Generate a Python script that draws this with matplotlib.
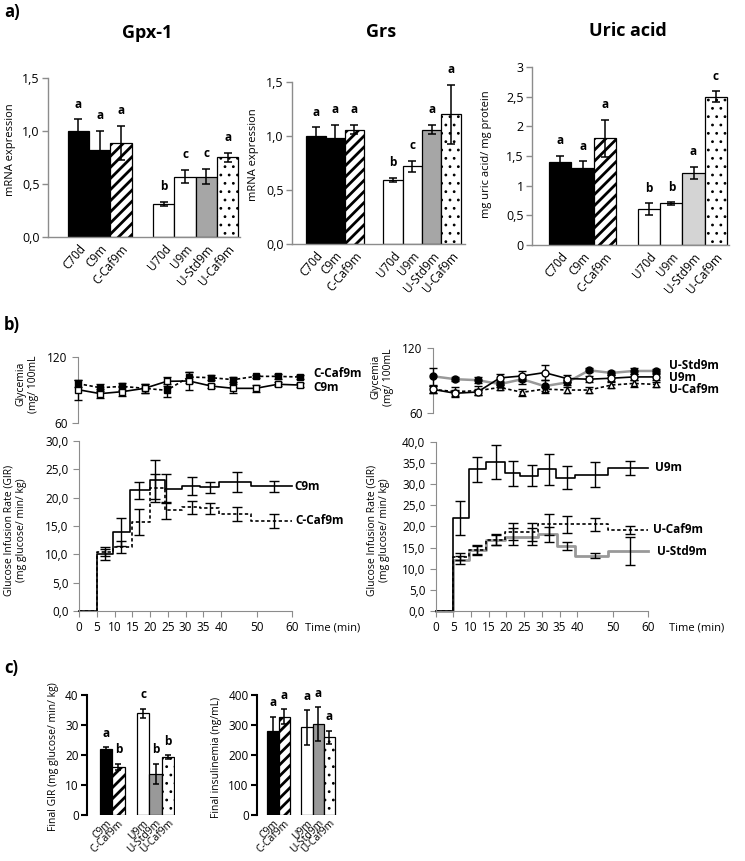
import matplotlib
matplotlib.use('Agg')
import matplotlib.pyplot as plt
import numpy as np

plt.rcParams['font.family'] = ['Open Sans', 'DejaVu Sans']

W, H = 745, 861
fig = plt.figure(figsize=(W / 100, H / 100), dpi=100)

# ---------------- DATA ----------------
cats_a = ['C70d', 'C9m', 'C-Caf9m', 'U70d', 'U9m', 'U-Std9m', 'U-Caf9m']
gpx_vals = [1.00, 0.82, 0.89, 0.31, 0.57, 0.57, 0.75]
gpx_err = [0.11, 0.18, 0.16, 0.02, 0.06, 0.07, 0.04]
gpx_letters = ['a', 'a', 'a', 'b', 'c', 'c', 'a']
grs_vals = [1.00, 0.98, 1.06, 0.59, 0.72, 1.06, 1.20]
grs_err = [0.08, 0.12, 0.04, 0.02, 0.05, 0.04, 0.27]
grs_letters = ['a', 'a', 'a', 'b', 'c', 'a', 'a']
uric_vals = [1.40, 1.29, 1.80, 0.60, 0.70, 1.21, 2.50]
uric_err = [0.10, 0.12, 0.31, 0.10, 0.02, 0.10, 0.09]
uric_letters = ['a', 'a', 'a', 'b', 'b', 'a', 'c']

# glycemia (11 sampling points)
gly_c9 = [90.3, 86.7, 88.5, 91.5, 97.9, 98.2, 93.6, 91.5, 91.5, 95.2, 94.5]
gly_c9_err = [9, 4, 4, 4, 4, 8, 2, 4, 3, 2, 2]
gly_ccaf = [95.8, 92.1, 93.3, 91.5, 89.7, 101.8, 101.2, 99.4, 102.4, 102.4, 101.8]
gly_ccaf_err = [3, 3, 3, 4, 6, 5, 2, 2, 1.5, 2, 2]
gly_ustd = [93.9, 91.2, 90.3, 86.7, 91.2, 84.8, 88.2, 99.4, 97.0, 98.8, 98.8]
gly_ustd_err = [8, 2, 3, 3, 4, 6, 2, 2, 2, 3, 2]
gly_u9 = [81.8, 78.2, 79.4, 92.4, 94.2, 97.3, 91.8, 91.2, 92.1, 93.3, 93.3]
gly_u9_err = [3, 3, 3, 4, 5, 7, 3, 3, 3, 3, 3]
gly_ucaf = [81.8, 79.7, 80.6, 83.6, 79.1, 82.1, 81.2, 81.2, 85.8, 87.3, 86.4]
gly_ucaf_err = [3, 4, 4, 2, 3, 2, 3, 3, 3, 3, 2]

# GIR step curves (breakpoint times, values)
gir_c9_t = [0, 5, 9.5, 14.5, 20, 24.3, 29, 34, 39.3, 48.5, 60]
gir_c9_v = [0, 10.0, 14.0, 21.3, 23.2, 21.6, 22.0, 21.8, 22.8, 22.0]
gir_ccaf_t = [0, 5, 9.5, 15, 20, 24.3, 29, 34, 39.3, 48.5, 60]
gir_ccaf_v = [0, 10.5, 11.3, 15.7, 21.7, 17.8, 18.3, 18.1, 17.1, 15.9]
eb_t_left = [7.3, 11.8, 17.0, 21.5, 24.5, 31.8, 37.0, 44.5, 54.9]
gir_c9_ebv = [10.0, 14.0, 21.3, 23.2, 21.6, 22.0, 21.8, 22.8, 22.0]
gir_c9_ebe = [1.0, 2.5, 1.5, 3.4, 2.5, 1.6, 0.9, 1.8, 1.0]
gir_ccaf_ebv = [10.5, 11.3, 15.7, 21.7, 17.8, 18.3, 18.1, 17.1, 15.9]
gir_ccaf_ebe = [0.8, 1.0, 2.3, 2.5, 1.5, 1.2, 1.0, 1.2, 1.2]

gir_u9_t = [0, 5, 9.5, 14.2, 19.5, 23.9, 29, 34, 39.3, 48.8, 60]
gir_u9_v = [0, 22.0, 33.5, 35.3, 32.5, 32.0, 33.5, 31.5, 32.2, 33.8]
gir_ucaf_t = [0, 5, 9.5, 14.2, 19.5, 29, 48.8, 60]
gir_ucaf_v = [0, 12.8, 14.3, 16.8, 18.7, 20.5, 19.2]
gir_ustd_t = [0, 5, 9.5, 14.2, 19.5, 29, 34.3, 39.5, 48.8, 60]
gir_ustd_v = [0, 12.0, 14.5, 16.7, 17.6, 18.1, 15.3, 13.1, 14.1]
eb_t_right = [7.0, 11.8, 17.0, 21.9, 27.1, 32.0, 37.0, 45.0, 54.9]
gir_u9_ebv = [22.0, 33.5, 35.3, 32.5, 32.0, 33.5, 31.5, 32.2, 33.8]
gir_u9_ebe = [4.0, 3.0, 4.0, 3.0, 2.5, 3.7, 2.7, 3.0, 1.6]
gir_ucaf_ebv = [12.8, 14.3, 16.8, 18.7, 18.7, 20.5, 20.5, 20.5, 19.2]
gir_ucaf_ebe = [0.8, 1.0, 1.3, 2.0, 2.2, 2.5, 2.0, 1.5, 1.0]
gir_ustd_ebv = [12.0, 14.5, 16.7, 17.6, 17.6, 18.1, 15.3, 13.1, 14.1]
gir_ustd_ebe = [1.0, 1.0, 1.2, 2.0, 2.0, 1.8, 1.0, 0.5, 3.3]

# panel c
cats_c = ['C9m', 'C-Caf9m', 'U9m', 'U-Std9m', 'U-Caf9m']
gir_final = [22.0, 16.1, 33.9, 13.8, 19.3]
gir_final_err = [0.7, 1.0, 1.5, 3.3, 0.6]
gir_final_letters = ['a', 'b', 'c', 'b', 'b']
ins_final = [281, 328, 292, 303, 259]
ins_final_err = [47, 25, 57, 57, 22]
ins_letters = ['a', 'a', 'a', 'a', 'a']

# ---------------- HELPERS ----------------
GRAY = '#8c8c8c'


def add_ax(l, r, t, b):
    return fig.add_axes([l / W, 1 - b / H, (r - l) / W, (b - t) / H])


def ftext(x, y, s, **kw):
    fig.text(x / W, 1 - y / H, s, **kw)


def set_hatch_lw(p, lw):
    if hasattr(p, 'set_hatch_linewidth'):
        p.set_hatch_linewidth(lw)


def bar_panel(ax, pos, vals, errs, letters, colors, hatches, ylim, yticks, ytl,
              xlim, labels, spine_color=GRAY, spine_lw=1.0, tick_fs=9,
              lab_fs=8.5, rot=50, letter_off=11, cap=3, xpad=4):
    for i, (p, v, e) in enumerate(zip(pos, vals, errs)):
        b = ax.bar(p, v, width=1.0, color=colors[i], edgecolor='black',
                   linewidth=0.9, hatch=hatches[i], zorder=2)[0]
        if hatches[i] == '///':
            set_hatch_lw(b, 2.0)
        elif hatches[i]:
            set_hatch_lw(b, 0.8)
        ax.errorbar(p, v, yerr=e, fmt='none', ecolor='black', elinewidth=1.1,
                    capsize=cap, capthick=1.1, zorder=3)
        ax.annotate(letters[i], (p, v + e), xytext=(0, letter_off),
                    textcoords='offset points', ha='center', va='center',
                    fontsize=8.5, fontweight='bold')
    ax.set_xlim(*xlim)
    ax.set_ylim(*ylim)
    ax.set_yticks(yticks)
    ax.set_yticklabels(ytl, fontsize=tick_fs)
    ax.set_xticks(pos)
    ax.set_xticklabels(labels, rotation=rot, ha='right', rotation_mode='anchor',
                       fontsize=lab_fs)
    ax.tick_params(axis='x', length=0, pad=xpad)
    ax.tick_params(axis='y', length=4, color=spine_color, width=spine_lw, pad=2)
    for s in ['top', 'right']:
        ax.spines[s].set_visible(False)
    for s in ['left', 'bottom']:
        ax.spines[s].set_color(spine_color)
        ax.spines[s].set_linewidth(spine_lw)


pos_a = [0, 1, 2, 4, 5, 6, 7]
hatch_a = [None, None, '///', None, None, None, '..']

# ---------------- PANEL A ----------------
ax = add_ax(48, 240, 78, 237)
bar_panel(ax, pos_a, gpx_vals, gpx_err, gpx_letters,
          ['black', 'black', 'white', 'white', 'white', '#a6a6a6', 'white'], hatch_a,
          (0, 1.5), [0, 0.5, 1.0, 1.5], ['0,0', '0,5', '1,0', '1,5'],
          (-1.43, 7.58), cats_a)
ax = add_ax(292, 465, 82, 244)
bar_panel(ax, pos_a, grs_vals, grs_err, grs_letters,
          ['black', 'black', 'white', 'white', 'white', '#a6a6a6', 'white'], hatch_a,
          (0, 1.5), [0, 0.5, 1.0, 1.5], ['0,0', '0,5', '1,0', '1,5'],
          (-1.24, 7.73), cats_a)
ax = add_ax(532, 729, 67, 245)
bar_panel(ax, pos_a, uric_vals, uric_err, uric_letters,
          ['black', 'black', 'white', 'white', 'white', '#d4d4d4', 'white'], hatch_a,
          (0, 3), [0, 0.5, 1, 1.5, 2, 2.5, 3], ['0', '0,5', '1', '1,5', '2', '2,5', '3'],
          (-1.28, 7.6), cats_a)

ftext(147, 33, 'Gpx-1', ha='center', va='center', fontsize=13, fontweight='bold')
ftext(381, 32, 'Grs', ha='center', va='center', fontsize=13, fontweight='bold')
ftext(628, 31, 'Uric acid', ha='center', va='center', fontsize=13, fontweight='bold')
ftext(11, 150, 'mRNA expression', rotation=90, ha='center', va='center', fontsize=8)
ftext(254, 155, 'mRNA expression', rotation=90, ha='center', va='center', fontsize=8)
ftext(487, 154, 'mg uric acid/ mg protein', rotation=90, ha='center', va='center', fontsize=8)

ftext(4, 12, 'a)', ha='left', va='center', fontsize=12, fontweight='bold')
ftext(4, 325, 'b)', ha='left', va='center', fontsize=12, fontweight='bold')
ftext(4, 668, 'c)', ha='left', va='center', fontsize=12, fontweight='bold')

# ---------------- PANEL B: glycemia ----------------
idx = np.arange(len(gly_c9))


def gly_axes(ax):
    ax.set_ylim(60, 120)
    ax.set_xlim(0, 10.25)
    ax.set_yticks([60, 120])
    ax.set_yticklabels(['60', '120'], fontsize=8.5)
    ax.set_xticks([])
    for s in ['top', 'right', 'bottom']:
        ax.spines[s].set_visible(False)
    ax.spines['left'].set_color(GRAY)
    ax.tick_params(axis='y', length=4, color=GRAY)
    ax.patch.set_alpha(0)


ax = add_ax(78, 305.5, 357, 423)
gly_axes(ax)
ax.errorbar(idx, gly_ccaf, yerr=gly_ccaf_err, color='black', ls=(0, (2, 1.5)), lw=1.2,
            marker='s', ms=5, mfc='black', mec='black', capsize=3, elinewidth=1,
            clip_on=False, zorder=3)
ax.errorbar(idx, gly_c9, yerr=gly_c9_err, color='black', ls='-', lw=1.2,
            marker='s', ms=5, mfc='white', mec='black', capsize=3, elinewidth=1,
            clip_on=False, zorder=4)
ax.text(10.6, 104.9, 'C-Caf9m', fontsize=8.5, fontweight='bold', va='center')
ax.text(10.6, 92.7, 'C9m', fontsize=8.5, fontweight='bold', va='center')

ax = add_ax(433, 661.6, 348, 413)
gly_axes(ax)
ax.errorbar(idx, gly_ucaf, yerr=gly_ucaf_err, color='black', ls=(0, (2, 1.5)), lw=1.2,
            marker='^', ms=5, mfc='white', mec='black', capsize=3, elinewidth=1,
            clip_on=False, zorder=3)
ax.errorbar(idx, gly_ustd, yerr=gly_ustd_err, color='#999999', ls='-', lw=1.8,
            marker='o', ms=5, mfc='black', mec='black', ecolor='black', capsize=3,
            elinewidth=1, clip_on=False, zorder=4)
ax.errorbar(idx, gly_u9, yerr=gly_u9_err, color='black', ls='-', lw=1.2,
            marker='o', ms=5, mfc='white', mec='black', capsize=3, elinewidth=1,
            clip_on=False, zorder=5)
ax.text(10.6, 104.3, 'U-Std9m', fontsize=8.5, fontweight='bold', va='center')
ax.text(10.6, 93.2, 'U9m', fontsize=8.5, fontweight='bold', va='center')
ax.text(10.6, 82.1, 'U-Caf9m', fontsize=8.5, fontweight='bold', va='center')

ftext(27, 384, 'Glycemia\n(mg/ 100mL', rotation=90, ha='center', va='center',
      fontsize=7.5, multialignment='center')
ftext(382, 377, 'Glycemia\n(mg/ 100mL', rotation=90, ha='center', va='center',
      fontsize=7.5, multialignment='center')

# ---------------- PANEL B: GIR ----------------


def gir_axes(ax, ymax, yticks, ytl):
    ax.set_xlim(0, 60)
    ax.set_ylim(0, ymax)
    ax.set_xticks([0, 5, 10, 15, 20, 25, 30, 35, 40, 50, 60])
    ax.set_xticklabels(['0', '5', '10', '15', '20', '25', '30', '35', '40', '50', '60'],
                       fontsize=8.5)
    ax.set_yticks(yticks)
    ax.set_yticklabels(ytl, fontsize=8.5)
    for s in ['top', 'right']:
        ax.spines[s].set_visible(False)
    for s in ['left', 'bottom']:
        ax.spines[s].set_color(GRAY)
    ax.tick_params(length=4, color=GRAY)
    ax.tick_params(axis='x', pad=3)


def step(ax, t, v, **kw):
    ax.plot(t, list(v) + [v[-1]], drawstyle='steps-post', **kw)


ax = add_ax(79, 292, 441, 611)
gir_axes(ax, 30, [0, 5, 10, 15, 20, 25, 30], ['0,0', '5,0', '10,0', '15,0', '20,0', '25,0', '30,0'])
step(ax, gir_ccaf_t, gir_ccaf_v, color='black', ls=(0, (2, 1.5)), lw=1.2, clip_on=False)
step(ax, gir_c9_t, gir_c9_v, color='black', ls='-', lw=1.2, clip_on=False)
ax.errorbar(eb_t_left, gir_c9_ebv, yerr=gir_c9_ebe, fmt='none', ecolor='black',
            elinewidth=1, capsize=3.5)
ax.errorbar(eb_t_left, gir_ccaf_ebv, yerr=gir_ccaf_ebe, fmt='none', ecolor='black',
            elinewidth=1, capsize=3.5)
ax.text(60.6, 22.0, 'C9m', fontsize=8.5, fontweight='bold', va='center', clip_on=False)
ax.text(61.0, 15.9, 'C-Caf9m', fontsize=8.5, fontweight='bold', va='center', clip_on=False)
ftext(333, 628, 'Time (min)', ha='center', va='center', fontsize=8)

ax = add_ax(435.7, 648, 441.7, 611)
gir_axes(ax, 40, [0, 5, 10, 15, 20, 25, 30, 35, 40],
         ['0,0', '5,0', '10,0', '15,0', '20,0', '25,0', '30,0', '35,0', '40,0'])
step(ax, gir_ustd_t, gir_ustd_v, color='#999999', ls='-', lw=2.0, clip_on=False)
step(ax, gir_ucaf_t, gir_ucaf_v, color='black', ls=(0, (2, 1.5)), lw=1.2, clip_on=False)
step(ax, gir_u9_t, gir_u9_v, color='black', ls='-', lw=1.2, clip_on=False)
for ebv, ebe in [(gir_u9_ebv, gir_u9_ebe), (gir_ucaf_ebv, gir_ucaf_ebe),
                 (gir_ustd_ebv, gir_ustd_ebe)]:
    ax.errorbar(eb_t_right, ebv, yerr=ebe, fmt='none', ecolor='black',
                elinewidth=1, capsize=3.5)
ax.text(62.0, 33.8, 'U9m', fontsize=8.5, fontweight='bold', va='center')
ax.text(61.4, 19.2, 'U-Caf9m', fontsize=8.5, fontweight='bold', va='center')
ax.text(62.5, 14.1, 'U-Std9m', fontsize=8.5, fontweight='bold', va='center')
ftext(697, 628, 'Time (min)', ha='center', va='center', fontsize=8)

ftext(15, 530, 'Glucose Infusion Rate (GIR)\n(mg glucose/ min/ kg)', rotation=90,
      ha='center', va='center', fontsize=7.5, multialignment='center')
ftext(378, 530, 'Glucose Infusion Rate (GIR)\n(mg glucose/ min/ kg)', rotation=90,
      ha='center', va='center', fontsize=7.5, multialignment='center')

# ---------------- PANEL C ----------------
pos_c = [0, 1, 3, 4, 5]
colors_c = ['black', 'white', 'white', '#999999', 'white']
hatch_c = [None, '///', None, None, '..']

ax = add_ax(87, 175.4, 695, 815)
bar_panel(ax, pos_c, gir_final, gir_final_err, gir_final_letters, colors_c, hatch_c,
          (0, 40), [0, 10, 20, 30, 40], ['0', '10', '20', '30', '40'],
          (-1.53, 5.6), cats_c, spine_color='black', spine_lw=1.5, tick_fs=8.5,
          lab_fs=7.5, rot=45, letter_off=10, cap=2.5, xpad=2)
ax.spines['bottom'].set_visible(False)
ax = add_ax(257, 337.4, 695, 815)
bar_panel(ax, pos_c, ins_final, ins_final_err, ins_letters, colors_c, hatch_c,
          (0, 400), [0, 100, 200, 300, 400], ['0', '100', '200', '300', '400'],
          (-1.42, 5.7), cats_c, spine_color='black', spine_lw=1.5, tick_fs=8.5,
          lab_fs=7.5, rot=45, letter_off=10, cap=2.5, xpad=2)
ax.spines['bottom'].set_visible(False)

ftext(54, 757, 'Final GIR (mg glucose/ min/ kg)', rotation=90, ha='center', va='center',
      fontsize=7.5)
ftext(216, 757, 'Final insulinemia (ng/mL)', rotation=90, ha='center', va='center',
      fontsize=7.5)

fig.savefig('out.png', dpi=100)
